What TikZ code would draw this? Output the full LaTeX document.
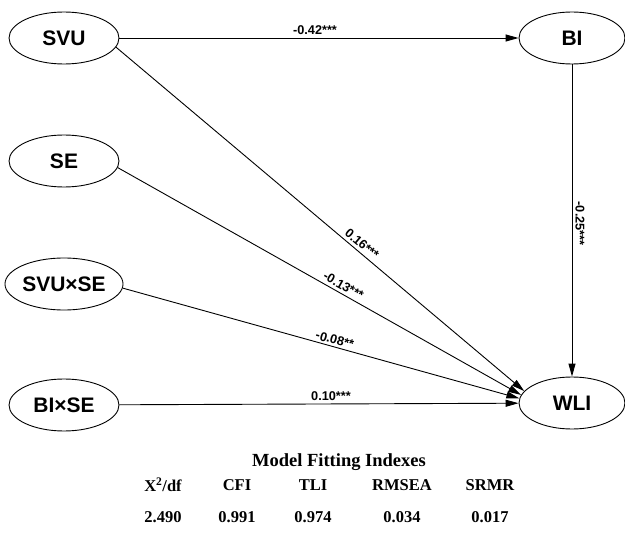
\documentclass[tikz,border=0pt]{standalone}
\usepackage{fontspec}
\setmainfont{Liberation Serif}
\newfontfamily\arialfam{Liberation Sans}
\usetikzlibrary{arrows.meta,shapes.geometric}
\begin{document}
\begin{tikzpicture}[x=1pt,y=-1pt,
  var/.style={ellipse, draw, line width=0.9pt, minimum width=110pt, minimum height=52pt, inner sep=0pt,
    font=\arialfam\bfseries\fontsize{21}{21}\selectfont},
  rvar/.style={var, minimum width=106pt},
  pth/.style={line width=0.9pt, -{Triangle[length=13pt,width=7pt]}},
  coef/.style={font=\arialfam\bfseries\fontsize{12.7}{12.7}\selectfont, inner sep=1pt},
  tabhead/.style={font=\bfseries\fontsize{16.5}{16.5}\selectfont, inner sep=0pt},
  tabtitle/.style={font=\bfseries\fontsize{18.5}{18.5}\selectfont, inner sep=0pt}]
\useasboundingbox (0,0) rectangle (625,535);

\node[var] (SVU) at (64,38) {SVU};
\node[var] (SE) at (64,161) {SE};
\node[var] (SVUSE) at (64,284) {SVU×SE};
\node[var] (BISE) at (64,405) {BI×SE};
\node[rvar] (BI) at (572,38) {BI};
\node[rvar] (WLI) at (572,403) {WLI};

\draw[pth] (SVU) -- node[coef, above=2pt, pos=.49] (c1) {-0.42***} (BI);
\draw[pth] (BI) -- node[coef, sloped, above=2pt, pos=.51] (c2) {-0.25***} (WLI);
\draw[pth] (SVU.-10.7) -- node[coef, sloped, above=2pt, pos=.59] (c3) {0.16***} (WLI.166);
\draw[pth] (SE.-7) -- node[coef, sloped, above=2pt, pos=.55] (c4) {-0.13***} (WLI.171);
\draw[pth] (SVUSE.-4) -- node[coef, sloped, above=1pt, pos=.53] (c5) {-0.08**} (WLI.175);
\draw[pth] (BISE) -- node[coef, above=2pt, pos=.53] (c6) {0.10***} (WLI);

\node[tabtitle] (title) at (339,462) {Model Fitting Indexes};
\node[tabhead] (h1) at (163,485) {X\textsuperscript{2}/df};
\node[tabhead] (h2) at (237,485) {CFI};
\node[tabhead] (h3) at (313,485) {TLI};
\node[tabhead] (h4) at (402,485) {RMSEA};
\node[tabhead] (h5) at (490,485) {SRMR};
\node[tabhead] (v1) at (163,517) {2.490};
\node[tabhead] (v2) at (237,517) {0.991};
\node[tabhead] (v3) at (313,517) {0.974};
\node[tabhead] (v4) at (402,517) {0.034};
\node[tabhead] (v5) at (490,517) {0.017};
\end{tikzpicture}
\end{document}
